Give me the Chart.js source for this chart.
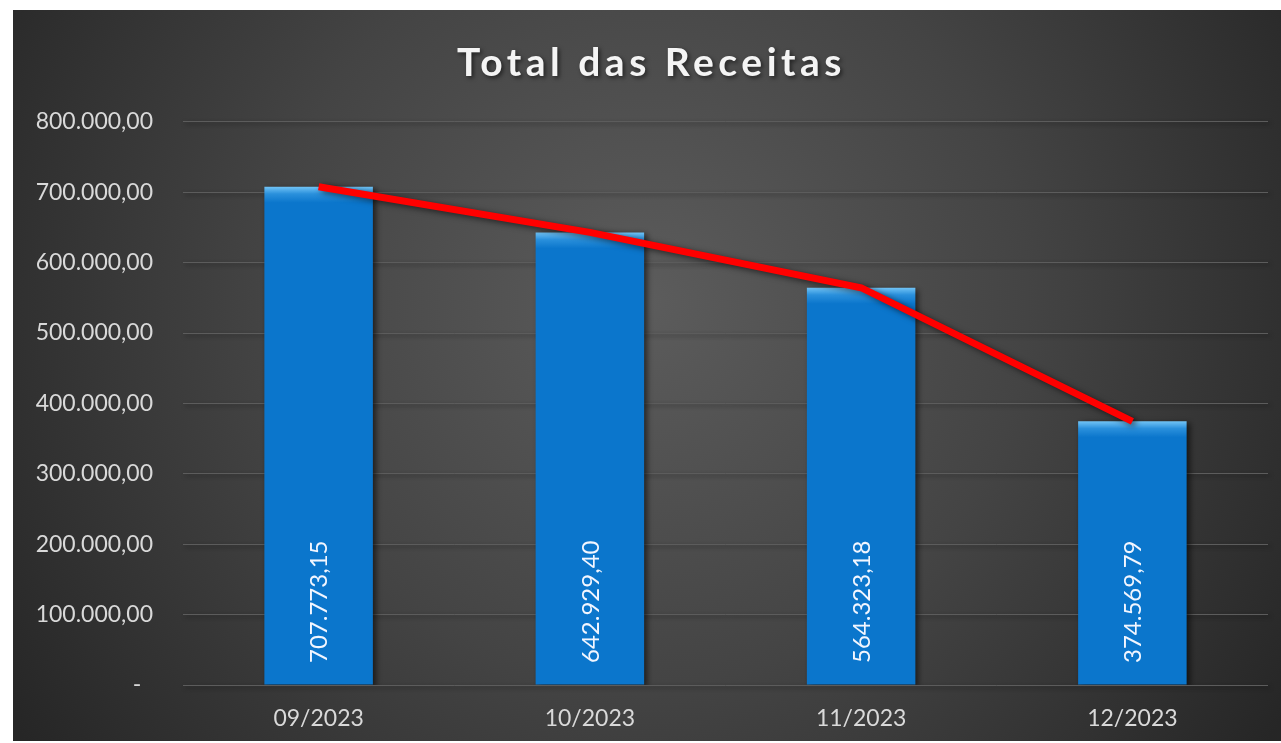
<!DOCTYPE html>
<html>
<head>
<meta charset="utf-8">
<script src="https://cdn.jsdelivr.net/npm/chart.js@4.4.0/dist/chart.umd.min.js"></script>
<style>
  html, body { margin:0; padding:0; background:#ffffff; }
  #wrap { position:absolute; left:13px; top:10px; width:1268px; height:731px; }
</style>
</head>
<body>
<div id="wrap"><canvas id="c" width="1268" height="731"></canvas></div>
<script>
const categories = ['09/2023', '10/2023', '11/2023', '12/2023'];
const receitas = [707773.15, 642929.40, 564323.18, 374569.79];
const yTickValues = [0, 100000, 200000, 300000, 400000, 500000, 600000, 700000, 800000];
const chartTitle = 'Total das Receitas';

function fmtBR(v) {
  const parts = Math.abs(v).toFixed(2).split('.');
  const intPart = parts[0].replace(/\B(?=(\d{3})+(?!\d))/g, '.');
  return intPart + ',' + parts[1];
}

const bgPlugin = {
  id: 'bgAndTitle',
  beforeDraw(chart) {
    const ctx = chart.ctx;
    const w = chart.width, h = chart.height;
    ctx.save();
    const g = ctx.createRadialGradient(w * 0.5, h * 0.4, 0, w * 0.5, h * 0.4, w * 0.6);
    g.addColorStop(0, '#5c5c5c');
    g.addColorStop(0.5, '#444444');
    g.addColorStop(1, '#262626');
    ctx.fillStyle = g;
    ctx.fillRect(0, 0, w, h);
    ctx.restore();
    ctx.save();
    ctx.letterSpacing = '4.5px';
    ctx.shadowColor = 'rgba(0,0,0,0.55)';
    ctx.shadowBlur = 4;
    ctx.shadowOffsetX = 2;
    ctx.shadowOffsetY = 2;
  },
  beforeDatasetsDraw(chart) {
    chart.ctx.restore();
  },
  beforeDatasetDraw(chart, args) {
    const ctx = chart.ctx;
    ctx.save();
    ctx.shadowColor = 'rgba(0,0,0,0.6)';
    ctx.shadowBlur = 6;
    ctx.shadowOffsetX = 3;
    ctx.shadowOffsetY = 2;
  },
  afterDatasetDraw(chart) {
    chart.ctx.restore();
  },
  afterDatasetsDraw(chart) {
    const ctx = chart.ctx;
    const idx = chart.data.datasets.findIndex(d => d.type === 'bar');
    const meta = chart.getDatasetMeta(idx);
    const y0 = chart.scales.y.getPixelForValue(0);
    ctx.save();
    ctx.fillStyle = '#f2f6ff';
    ctx.font = '24px Lato';
    ctx.textAlign = 'left';
    ctx.textBaseline = 'middle';
    meta.data.forEach((el, i) => {
      ctx.save();
      ctx.translate(el.x + 1, y0 - 22);
      ctx.rotate(-Math.PI / 2);
      ctx.fillText(fmtBR(chart.data.datasets[idx].data[i]), 0, 0);
      ctx.restore();
    });
    ctx.restore();
  }
};

function barFill(c) {
  const chart = c.chart;
  const ys = chart.scales && chart.scales.y;
  if (c.type !== 'data' || !ys || !isFinite(ys.top)) return '#0b76cc';
  const top = ys.getPixelForValue(c.raw);
  const g = chart.ctx.createLinearGradient(0, top, 0, top + 16);
  g.addColorStop(0, '#72c4f6');
  g.addColorStop(0.45, '#2a90dc');
  g.addColorStop(1, '#0b76cc');
  return g;
}

new Chart(document.getElementById('c'), {
  data: {
    labels: categories,
    datasets: [
      {
        type: 'line',
        label: 'Tendência',
        data: receitas,
        borderColor: '#ff0000',
        borderWidth: 7,
        pointRadius: 0,
        tension: 0,
        order: 0
      },
      {
        type: 'bar',
        label: 'Receitas',
        data: receitas,
        backgroundColor: barFill,
        borderWidth: 0,
        categoryPercentage: 1,
        barPercentage: 0.4,
        order: 1
      }
    ]
  },
  options: {
    responsive: false,
    animation: false,
    layout: { padding: { left: 22, right: 13, top: 0, bottom: 0 } },
    plugins: {
      legend: { display: false },
      tooltip: { enabled: false },
      title: {
        display: true,
        text: chartTitle,
        color: '#f4f4f4',
        font: { family: 'Lato', size: 39, weight: 'bold' },
        padding: { top: 30, bottom: 35 }
      }
    },
    scales: {
      x: {
        grid: { display: false, drawTicks: false },
        border: { display: false },
        ticks: {
          color: '#d9d9d9',
          font: { family: 'Lato', size: 23 },
          padding: 20,
          z: 1
        },
        afterFit(s) { s.height = 56; }
      },
      y: {
        min: 0,
        max: 800000,
        afterBuildTicks(s) { s.ticks = yTickValues.map(v => ({ value: v })); },
        grid: { color: '#5c5c5c', lineWidth: 1, drawTicks: false },
        border: { display: false },
        ticks: {
          color: '#d9d9d9',
          font: { family: 'Lato', size: 23 },
          padding: 30,
          z: 1,
          callback: (v) => v === 0 ? '-  ' : fmtBR(v)
        },
        afterFit(s) { s.width = 148; }
      }
    }
  },
  plugins: [bgPlugin]
});
</script>
</body>
</html>
